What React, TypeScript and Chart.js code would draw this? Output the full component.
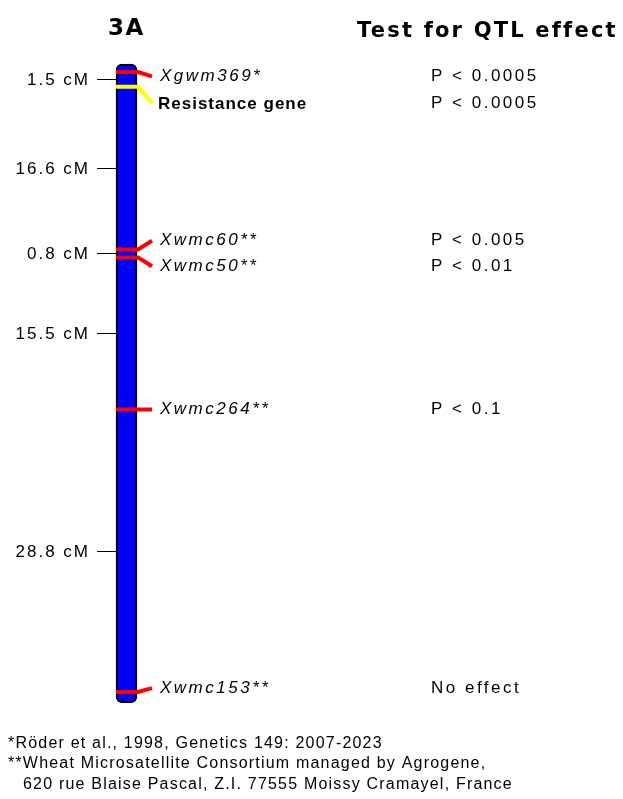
import React, { useEffect, useRef } from "react";
import { Chart, registerables } from "chart.js";

Chart.register(...registerables);

// ---- data ----
const chromosomeName = "3A";
const testTitle = "Test for QTL effect";
const intervalsCM = [1.5, 16.6, 0.8, 15.5, 28.8];
const markerNames = ["Xgwm369*", "Resistance gene", "Xwmc60**", "Xwmc50**", "Xwmc264**", "Xwmc153**"];
const markerIsGene = [false, true, false, false, false, false];
const pValues = ["P < 0.0005", "P < 0.0005", "P < 0.005", "P < 0.01", "P < 0.1", "No effect"];
const footnotes = [
  "*Röder et al., 1998, Genetics 149: 2007-2023",
  "**Wheat Microsatellite Consortium managed by Agrogene,",
  "620 rue Blaise Pascal, Z.I. 77555 Moissy Cramayel, France",
];

// positions derived from intervals
const markerPositions: number[] = [0];
intervalsCM.forEach((d) => markerPositions.push(+(markerPositions[markerPositions.length - 1] + d).toFixed(2)));
const intervalLabels = intervalsCM.map((d) => d.toFixed(1) + " cM");

// ---- layout (not data) ----
const W = 623;
const H = 799;
const Y_MIN = -7.34;
const Y_MAX = 74.11;
const BAR_X = 126.5;
const BAR_W = 21;
const BAR_LEFT = BAR_X - BAR_W / 2;
const BAR_RIGHT = BAR_X + BAR_W / 2;
const LEAD_END = 152;
const LABEL_X = 160;
const P_X = 431;
const LEFT_LABEL_RIGHT = 90;
const TICK_X0 = 97;
const labelShiftCM = [0.45, 1.65, -0.9, 0.9, 0, -0.4];
const FONT = '"Liberation Sans", Arial, sans-serif';
const TITLE_FONT = '"DejaVu Sans", Verdana, sans-serif';

const textPlugin = {
  id: "mapText",
  afterDatasetsDraw(chart: any) {
    const ctx = chart.ctx as CanvasRenderingContext2D;
    const ys = chart.scales.y;
    ctx.save();
    ctx.fillStyle = "#000";
    ctx.textBaseline = "middle";

    // titles
    ctx.font = "bold 23px " + TITLE_FONT;
    (ctx as any).letterSpacing = "1.5px";
    ctx.textAlign = "center";
    ctx.fillText(chromosomeName, BAR_X, 29);
    ctx.font = "bold 21px " + TITLE_FONT;
    (ctx as any).letterSpacing = "2.2px";
    ctx.textAlign = "left";
    ctx.fillText(testTitle, 357, 32);

    // interval ticks on the left
    ctx.font = "17px " + FONT;
    (ctx as any).letterSpacing = "2px";
    ctx.textAlign = "right";
    ctx.strokeStyle = "#000";
    ctx.lineWidth = 1;
    intervalLabels.forEach((lab, i) => {
      const y = Math.round(ys.getPixelForValue((markerPositions[i] + markerPositions[i + 1]) / 2)) + 0.5;
      ctx.beginPath();
      ctx.moveTo(TICK_X0, y);
      ctx.lineTo(BAR_LEFT, y);
      ctx.stroke();
      ctx.fillText(lab, LEFT_LABEL_RIGHT, y + 1);
    });

    // marker labels + p-values
    ctx.textAlign = "left";
    markerNames.forEach((name, i) => {
      const y = ys.getPixelForValue(markerPositions[i] + labelShiftCM[i]);
      if (markerIsGene[i]) {
        ctx.font = "bold 17px " + FONT;
        (ctx as any).letterSpacing = "1px";
        ctx.fillText(name, LABEL_X - 2, y + 1);
      } else {
        ctx.font = "italic 17px " + FONT;
        (ctx as any).letterSpacing = "2.5px";
        ctx.fillText(name, LABEL_X, y);
      }
      ctx.font = "17px " + FONT;
      (ctx as any).letterSpacing = "2.5px";
      ctx.fillText(pValues[i], P_X, y);
    });

    // footnotes
    ctx.font = "16px " + FONT;
    (ctx as any).letterSpacing = "1.2px";
    ctx.fillText(footnotes[0], 8, 744);
    ctx.fillText(footnotes[1], 8, 764);
    ctx.fillText(footnotes[2], 23, 785);
    ctx.restore();
  },
};

export default function App() {
  const ref = useRef<HTMLCanvasElement>(null);
  useEffect(() => {
    document.body.style.margin = "0";
    const barTop = markerPositions[0] - 0.8;
    const barBottom = markerPositions[markerPositions.length - 1] + 1.1;
    const markerDatasets = markerNames.map((name, i) => ({
      type: "line" as const,
      label: name,
      data: [
        { x: BAR_LEFT, y: markerPositions[i] },
        { x: BAR_RIGHT + 1, y: markerPositions[i] },
        { x: LEAD_END, y: markerPositions[i] + labelShiftCM[i] },
      ],
      borderColor: markerIsGene[i] ? "#ffff00" : "#ff0000",
      borderWidth: 4,
      pointRadius: 0,
      fill: false,
      tension: 0,
      order: 0,
    }));
    const chart = new Chart(ref.current!, {
      type: "bar",
      data: {
        datasets: [
          ...markerDatasets,
          {
            type: "bar" as const,
            label: "chromosome",
            data: [{ x: BAR_X, y: [barTop, barBottom] }] as any,
            backgroundColor: "#0000ff",
            borderColor: "#000000",
            borderWidth: 2,
            borderSkipped: false,
            borderRadius: 6,
            barThickness: BAR_W,
            order: 10,
          } as any,
        ],
      },
      options: {
        animation: false,
        responsive: false,
        devicePixelRatio: 1,
        events: [],
        layout: { padding: 0 },
        plugins: { legend: { display: false }, tooltip: { enabled: false }, title: { display: false } },
        scales: {
          x: { type: "linear", min: 0, max: W, display: false, offset: false },
          y: { type: "linear", min: Y_MIN, max: Y_MAX, reverse: true, display: false },
        },
      },
      plugins: [textPlugin],
    });
    return () => chart.destroy();
  }, []);
  return (
    <div style={{ position: "absolute", left: 0, top: 0, width: W, height: H, background: "#fff" }}>
      <canvas ref={ref} width={W} height={H} style={{ display: "block" }} />
    </div>
  );
}
